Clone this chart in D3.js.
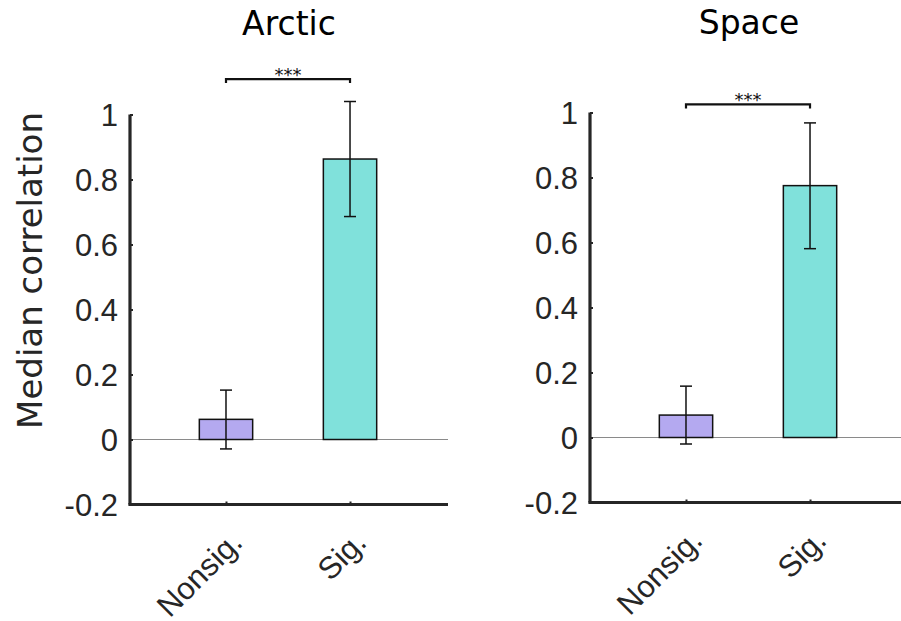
<!DOCTYPE html>
<html>
<head>
<meta charset="utf-8">
<script src="https://cdn.jsdelivr.net/npm/d3@7"></script>
<style>
	body { margin: 0; background: #fff; }
	svg { display: block; font-family: "DejaVu Sans", Verdana, sans-serif; }
</style>
</head>
<body>
<svg id="vis" width="901" height="621"></svg>
<script>
// data
var panels = ["Arctic", "Space"];
var categories = ["Nonsig.", "Sig."];
var medians = [[0.062, 0.863], [0.069, 0.775]];
var errLow = [[-0.029, 0.686], [-0.020, 0.581]];
var errHigh = [[0.152, 1.040], [0.158, 0.968]];
var sigLabels = ["***", "***"];
var sigLevel = [1.109, 1.025];
var yTicks = [-0.2, 0, 0.2, 0.4, 0.6, 0.8, 1];
var barColors = ["#b4a9f0", "#80e1db"];

var svg = d3.select("#vis");

// panel frames (left edge, top of y=1, bottom of y=-0.2)
var frames = [
	{left: 130, top: 114.5, bottom: 504.5},
	{left: 590, top: 112.5, bottom: 502.5}
];

panels.forEach(function(name, p){
	var f = frames[p];

	var y = d3.scaleLinear()
		.domain([-0.2, 1])
		.range([f.bottom, f.top]);

	var x = d3.scaleLinear()
		.domain([0.226, 2.79])
		.range([f.left, f.left + 318]);

	var barW = 0.43;

	var g = svg.append("g");

	var rows = categories.map(function(c, i){
		return {cat: c, i: i + 1, v: medians[p][i], lo: errLow[p][i], hi: errHigh[p][i], col: barColors[i]};
	});

	// zero line
	g.append("line")
		.attr("x1", x(0.226)).attr("x2", x(2.79))
		.attr("y1", y(0)).attr("y2", y(0))
		.attr("stroke", "#8a8a8a").attr("stroke-width", 1.2);

	// bars
	g.selectAll(".bar")
		.data(rows)
		.enter().append("rect")
		.attr("class", "bar")
		.attr("x", function(d){ return x(d.i - barW / 2); })
		.attr("width", function(d){ return x(d.i + barW / 2) - x(d.i - barW / 2); })
		.attr("y", function(d){ return y(d.v); })
		.attr("height", function(d){ return y(0) - y(d.v); })
		.attr("fill", function(d){ return d.col; })
		.attr("stroke", "#111")
		.attr("stroke-width", 1.5);

	// error bars
	var err = g.selectAll(".err")
		.data(rows)
		.enter().append("g")
		.attr("class", "err")
		.attr("stroke", "#111")
		.attr("stroke-width", 1.5);

	err.append("line")
		.attr("x1", function(d){ return x(d.i); })
		.attr("x2", function(d){ return x(d.i); })
		.attr("y1", function(d){ return y(d.lo); })
		.attr("y2", function(d){ return y(d.hi); });

	err.append("line")
		.attr("x1", function(d){ return x(d.i) - 6; })
		.attr("x2", function(d){ return x(d.i) + 6; })
		.attr("y1", function(d){ return y(d.hi); })
		.attr("y2", function(d){ return y(d.hi); });

	err.append("line")
		.attr("x1", function(d){ return x(d.i) - 6; })
		.attr("x2", function(d){ return x(d.i) + 6; })
		.attr("y1", function(d){ return y(d.lo); })
		.attr("y2", function(d){ return y(d.lo); });

	// y axis
	var yAxis = g.append("g")
		.attr("transform", "translate(" + f.left + ",0)")
		.call(d3.axisLeft(y).tickValues(yTicks).tickSize(-3).tickPadding(12)
			.tickFormat(function(d){ return String(+d.toFixed(1)); }));

	yAxis.select(".domain").attr("stroke", "#262626").attr("stroke-width", 3.2)
		.attr("d", "M0," + f.top + "V" + f.bottom);
	yAxis.selectAll(".tick line").attr("stroke", "#262626").attr("stroke-width", 2);
	yAxis.selectAll(".tick text")
		.attr("fill", "#262626")
		.style("font-size", "31px")
		.attr("dy", "0.36em");

	// x axis
	var xAxis = g.append("g")
		.attr("transform", "translate(0," + f.bottom + ")")
		.call(d3.axisBottom(x).tickValues([1, 2]).tickSize(-3)
			.tickFormat(function(d){ return categories[d - 1]; }));

	xAxis.select(".domain").attr("stroke", "#262626").attr("stroke-width", 3.2)
		.attr("d", "M" + (f.left - 1.6) + ",0H" + x(2.79));
	xAxis.selectAll(".tick line").attr("stroke", "#262626").attr("stroke-width", 2);
	xAxis.selectAll(".tick text")
		.attr("fill", "#262626")
		.style("font-size", "31px")
		.attr("text-anchor", "end")
		.attr("y", 0)
		.attr("dy", "0.35em")
		.attr("transform", "translate(10,32) rotate(-45)");

	// y label, first panel only
	if (p === 0) {
		g.append("text")
			.attr("transform", "translate(42," + y(0.52) + ") rotate(-90)")
			.attr("text-anchor", "middle")
			.attr("fill", "#262626")
			.style("font-size", "34px")
			.text("Median correlation");
	}

	// title
	g.append("text")
		.attr("x", (x(0.226) + x(2.79)) / 2)
		.attr("y", p === 0 ? 35 : 34)
		.attr("text-anchor", "middle")
		.attr("fill", "#000")
		.style("font-size", "33px")
		.text(name);

	// significance bracket
	var sy = y(sigLevel[p]);
	g.append("path")
		.attr("d", "M" + x(1) + "," + (sy + 4) + "V" + sy + "H" + x(2) + "V" + (sy + 4))
		.attr("fill", "none")
		.attr("stroke", "#111")
		.attr("stroke-width", 2.2);

	g.append("text")
		.attr("x", (x(1) + x(2)) / 2)
		.attr("y", sy + 2)
		.attr("text-anchor", "middle")
		.attr("fill", "#111")
		.style("font-size", "18px")
		.text(sigLabels[p]);
});
</script>
</body>
</html>
